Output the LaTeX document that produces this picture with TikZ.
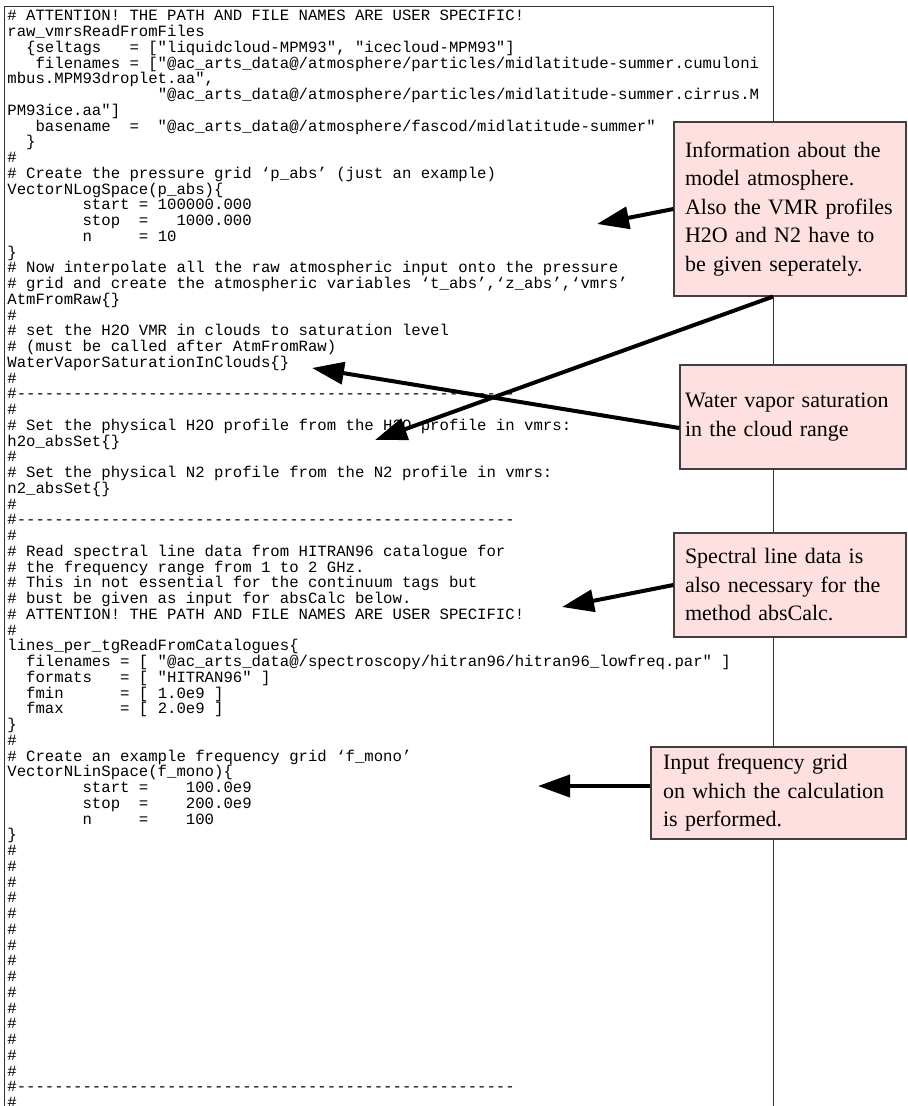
\documentclass[tikz,border=0pt]{standalone}
\usepackage{fontspec}
\setmainfont{Liberation Serif}
\setmonofont{Liberation Mono}
\usetikzlibrary{arrows.meta}
\definecolor{notepink}{RGB}{255,224,224}
\newcommand{\codefont}{\ttfamily\fontsize{7.83}{7.875}\selectfont\frenchspacing\lineskiplimit=-20pt}
\tikzset{
  frame/.style={line width=0.5pt,black!80},
  code/.style={inner sep=0pt,align=left,font=\codefont},
  note/.style={draw=black!75,fill=notepink,line width=0.6pt,align=left,
    font=\fontsize{11}{14.25}\selectfont,inner xsep=5.5pt,inner ysep=0pt},
  pointer/.style={line width=2pt,-{Triangle[length=16pt,width=11pt]}}
}
\begin{document}
\begin{tikzpicture}[x=0.5pt,y=-0.5pt]
  \useasboundingbox (0,0) rectangle (908,1106);
  \coordinate (rule) at (773,7);
  % frame of the control file
  \draw[frame] (4,1106) |- (rule) -- (773,1106);
  \node[code,anchor=north west] (listing) at (7,10) {%
\# ATTENTION! THE PATH AND FILE NAMES ARE USER SPECIFIC!\\
raw\_vmrsReadFromFiles\\
\null~~\{seltags~~~= ["liquidcloud-MPM93", "icecloud-MPM93"]\\
\null~~~filenames = ["@ac\_arts\_data@/atmosphere/particles/midlatitude-summer.cumuloni\\
mbus.MPM93droplet.aa",\\
\null~~~~~~~~~~~~~~~~"@ac\_arts\_data@/atmosphere/particles/midlatitude-summer.cirrus.M\\
PM93ice.aa"]\\
\null~~~basename~~=~~"@ac\_arts\_data@/atmosphere/fascod/midlatitude-summer"\\
\null~~\}\\
\#\\
\# Create the pressure grid ‘p\_abs’ (just an example)\\
VectorNLogSpace(p\_abs)\{\\
\null~~~~~~~~start = 100000.000\\
\null~~~~~~~~stop~~=~~~1000.000\\
\null~~~~~~~~n~~~~~= 10\\
\}\\
\# Now interpolate all the raw atmospheric input onto the pressure\\
\# grid and create the atmospheric variables ‘t\_abs’,‘z\_abs’,‘vmrs’\\
AtmFromRaw\{\}\\
\#\\
\# set the H2O VMR in clouds to saturation level\\
\# (must be called after AtmFromRaw)\\
WaterVaporSaturationInClouds\{\}\\
\#\\
\#-----------------------------------------------------\\
\#\\
\# Set the physical H2O profile from the H2O profile in vmrs:\\
h2o\_absSet\{\}\\
\#\\
\# Set the physical N2 profile from the N2 profile in vmrs:\\
n2\_absSet\{\}\\
\#\\
\#-----------------------------------------------------\\
\#\\
\# Read spectral line data from HITRAN96 catalogue for\\
\# the frequency range from 1 to 2 GHz.\\
\# This in not essential for the continuum tags but\\
\# bust be given as input for absCalc below.\\
\# ATTENTION! THE PATH AND FILE NAMES ARE USER SPECIFIC!\\
\#\\
lines\_per\_tgReadFromCatalogues\{\\
\null~~filenames = [ "@ac\_arts\_data@/spectroscopy/hitran96/hitran96\_lowfreq.par" ]\\
\null~~formats~~~= [ "HITRAN96" ]\\
\null~~fmin~~~~~~= [ 1.0e9 ]\\
\null~~fmax~~~~~~= [ 2.0e9 ]\\
\}\\
\#\\
\# Create an example frequency grid ‘f\_mono’\\
VectorNLinSpace(f\_mono)\{\\
\null~~~~~~~~start =~~~~100.0e9\\
\null~~~~~~~~stop~~=~~~~200.0e9\\
\null~~~~~~~~n~~~~~=~~~~100\\
\}\\
\#\\ \#\\ \#\\ \#\\ \#\\ \#\\ \#\\ \#\\ \#\\ \#\\ \#\\ \#\\ \#\\ \#\\ \#\\
\#-----------------------------------------------------\\
\#};
  % notes
  \node[note,text width=105pt,minimum height=87pt] (atmos) at (790,209)
    {Information about the\\model atmosphere.\\Also the VMR profiles\\H2O and N2 have to\\be given seperately.};
  \node[note,text width=108pt,inner xsep=2.5pt,minimum height=52pt] (vapor) at (793,417)
    {Water vapor saturation\\in the cloud range};
  \node[note,text width=105pt,minimum height=52pt] (lines) at (790,585)
    {Spectral line data is\\also necessary for the\\method absCalc.};
  \node[note,text width=115.5pt,inner xsep=6pt,minimum height=46pt] (fgrid) at (778.5,793)
    {Input frequency grid\\on which the calculation\\is performed.};
  % pointers into the file
  \coordinate (atmtip) at (597,224);
  \coordinate (h2otip) at (375,440);
  \coordinate (vaptip) at (312,368);
  \coordinate (spectip) at (562,607);
  \coordinate (ftip) at (538,786);
  \draw[pointer] (atmos.west) -- (atmtip);
  \draw[pointer] (atmos.south -| rule) -- (h2otip);
  \draw[pointer] ([yshift=-5.5pt]vapor.west) -- (vaptip);
  \draw[pointer] (lines.west) -- (spectip);
  \draw[pointer] (fgrid.west |- ftip) -- (ftip);
\end{tikzpicture}
\end{document}
